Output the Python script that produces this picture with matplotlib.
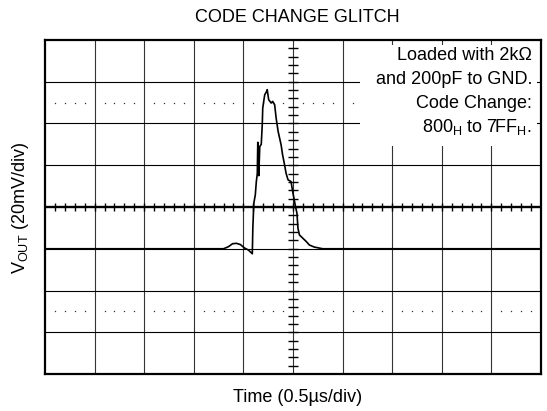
import matplotlib.pyplot as plt
from matplotlib.patches import Rectangle

plt.rcParams['font.family'] = ['Liberation Sans', 'DejaVu Sans']
plt.rcParams['mathtext.fontset'] = 'custom'
plt.rcParams['mathtext.rm'] = 'Liberation Sans'

tiempo_us = [0.0, 1.80, 1.85, 1.89, 1.93, 1.97, 2.01, 2.05, 2.09, 2.095, 2.105,
             2.12, 2.13, 2.14, 2.145, 2.15, 2.155, 2.165, 2.18, 2.19, 2.195,
             2.215, 2.23, 2.24, 2.255, 2.28, 2.295, 2.315, 2.33, 2.35, 2.365,
             2.38, 2.395, 2.415, 2.43, 2.45, 2.48, 2.50, 2.525, 2.54, 2.55,
             2.565, 2.60, 2.635, 2.665, 2.715, 2.80, 5.0]
vout_mv = [0.0, 0.0, 1.0, 2.4, 2.6, 2.0, 0.4, -0.6, -2.4, 9.8, 21.8,
           25.8, 32.0, 36.0, 51.0, 46.0, 35.0, 49.0, 50.0, 59.4, 67.4,
           73.8, 75.0, 76.2, 71.4, 69.8, 70.6, 69.0, 62.6, 56.2, 53.0,
           49.8, 45.0, 40.2, 36.2, 33.0, 32.2, 26.6, 20.2, 17.0, 9.8,
           6.6, 5.0, 3.4, 1.8, 0.8, 0.0, 0.0]

# Reticula: 10 div x 0.5us, 8 div x 20mV
div_t = 0.5
div_v = 20.0
t_min, t_max = 0.0, 5.0
v_min, v_max = -60.0, 100.0
t_centro = 2.5
v_centro = 20.0

nota = ['Loaded with 2k\u03a9', 'and 200pF to GND.', 'Code Change:',
        '800$_\\mathregular{H}$ to 7FF$_\\mathregular{H}$.']

fig = plt.figure(figsize=(5.47, 4.11), dpi=100)
ax = fig.add_axes([45 / 547, 1 - 374 / 411, 496 / 547, 334 / 411])
ax.set_xlim(t_min, t_max)
ax.set_ylim(v_min, v_max)
ax.set_xticks([])
ax.set_yticks([])
for s in ax.spines.values():
    s.set_linewidth(1.6)
    s.set_color('black')

# Lineas de la reticula
for i in range(1, 10):
    ax.axvline(t_min + i * div_t, color='#333333', lw=0.8, zorder=1)
for j in range(1, 8):
    v = v_min + j * div_v
    ax.axhline(v, color='black', lw=1.7 if v == v_centro else 0.8, zorder=1)

# Marcas menores en los ejes centrales
marcas_t = [t_min + k * div_t / 5 for k in range(1, 50)]
marcas_v = [v_min + k * div_v / 5 for k in range(1, 40)]
ax.plot(marcas_t, [v_centro] * len(marcas_t), ls='none', marker='|',
        markersize=5.8, markeredgewidth=1.0, color='black', zorder=2)
ax.plot([t_centro] * len(marcas_v), marcas_v, ls='none', marker='_',
        markersize=7.2, markeredgewidth=1.0, color='black', zorder=2)

# Filas punteadas (10% / 90%)
puntos_t = [t_min + k * div_t / 5 for k in range(1, 50) if k % 5 != 0]
for v in (-30.0, 70.0):
    ax.plot(puntos_t, [v] * len(puntos_t), ls='none', marker='s',
            markersize=0.9, markeredgewidth=0, color='#333333', zorder=2)

# Traza
ax.plot(tiempo_us, vout_mv, color='black', lw=1.2, zorder=4)

# Nota con fondo blanco
ax.add_patch(Rectangle((0.635, 0.683), 0.357, 0.302, transform=ax.transAxes,
                       facecolor='white', edgecolor='none', zorder=3))
for n, linea in enumerate(nota):
    ax.text(0.982, 0.940 - n * 0.0719, linea, transform=ax.transAxes,
            ha='right', va='baseline', fontsize=13, zorder=5)

fig.text(297 / 547, 1 - 17 / 411, 'CODE CHANGE GLITCH', ha='center', va='center',
         fontsize=13)
fig.text(298 / 547, 1 - 397 / 411, 'Time (0.5\u00b5s/div)', ha='center', va='center',
         fontsize=13)
fig.text(21 / 547, 1 - 208 / 411, 'V$_\\mathregular{OUT}$ (20mV/div)', ha='center',
         va='center', rotation=90, fontsize=13)

plt.savefig('out.png', dpi=100)
